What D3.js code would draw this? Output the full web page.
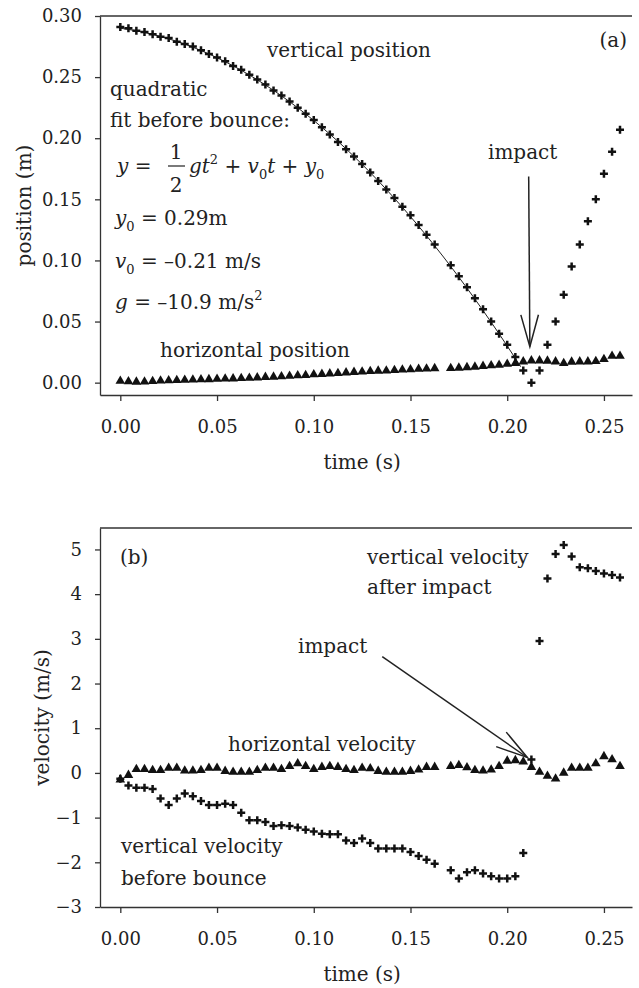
<!DOCTYPE html>
<html>
<head>
<meta charset="utf-8">
<script src="https://cdn.jsdelivr.net/npm/d3@7"></script>
<style>
  body { margin: 0; background: #fff; }
  svg { display: block; }
  svg text { font-family: "DejaVu Serif", "Liberation Serif", serif; }
  .axis path, .axis line { stroke: #333; stroke-width: 1.3; }
  .axis text { font-size: 18px; fill: #222; }
  .lbl { font-size: 20px; fill: #222; }
  .sm { font-size: 13px; }
</style>
</head>
<body>
<svg id="chart" width="639" height="988"></svg>
<script>
// frame times (s); frame at 0.1667 s is missing in the record
const time = [0.0000, 0.0042, 0.0083, 0.0125, 0.0167, 0.0208, 0.0250, 0.0292, 0.0333, 0.0375,
  0.0417, 0.0458, 0.0500, 0.0542, 0.0583, 0.0625, 0.0667, 0.0708, 0.0750, 0.0792,
  0.0833, 0.0875, 0.0917, 0.0958, 0.1000, 0.1042, 0.1083, 0.1125, 0.1167, 0.1208,
  0.1250, 0.1292, 0.1333, 0.1375, 0.1417, 0.1458, 0.1500, 0.1542, 0.1583, 0.1625,
  0.1708, 0.1750, 0.1792, 0.1833, 0.1875, 0.1917, 0.1958, 0.2000, 0.2042, 0.2083,
  0.2125, 0.2167, 0.2208, 0.2250, 0.2292, 0.2333, 0.2375, 0.2417, 0.2458, 0.2500,
  0.2542, 0.2583];

const vertPos = [0.291, 0.290, 0.288, 0.287, 0.285, 0.283, 0.282, 0.279, 0.277, 0.275,
  0.272, 0.269, 0.266, 0.263, 0.259, 0.256, 0.252, 0.248, 0.244, 0.239,
  0.235, 0.230, 0.225, 0.220, 0.215, 0.209, 0.203, 0.197, 0.191, 0.185,
  0.179, 0.172, 0.165, 0.158, 0.151, 0.144, 0.137, 0.129, 0.121, 0.113,
  0.096, 0.087, 0.078, 0.069, 0.060, 0.050, 0.040, 0.031, 0.021, 0.010,
  0.000, 0.010, 0.031, 0.050, 0.072, 0.095, 0.113, 0.132, 0.150, 0.171,
  0.189, 0.207];

const horizPos = [0.0014, 0.0010, 0.0006, 0.0008, 0.0012, 0.0015, 0.0018, 0.0020, 0.0021, 0.0024,
  0.0026, 0.0027, 0.0030, 0.0032, 0.0033, 0.0036, 0.0038, 0.0041, 0.0045, 0.0047,
  0.0050, 0.0054, 0.0058, 0.0061, 0.0066, 0.0070, 0.0074, 0.0077, 0.0082, 0.0086,
  0.0089, 0.0093, 0.0096, 0.0098, 0.0102, 0.0105, 0.0107, 0.0111, 0.0114, 0.0117,
  0.0118, 0.0121, 0.0125, 0.0129, 0.0135, 0.0140, 0.0145, 0.0152, 0.0159, 0.0172,
  0.0180, 0.0180, 0.0178, 0.0172, 0.0159, 0.0170, 0.0172, 0.0172, 0.0175, 0.0191,
  0.0218, 0.0218];

const horizVel = [-0.15, -0.05, 0.08, 0.08, 0.06, 0.06, 0.11, 0.11, 0.05, 0.05,
  0.06, 0.11, 0.11, 0.04, 0.02, 0.02, 0.02, 0.06, 0.11, 0.11,
  0.08, 0.15, 0.21, 0.15, 0.08, 0.13, 0.15, 0.13, 0.08, 0.06,
  0.11, 0.10, 0.04, 0.02, 0.02, 0.02, 0.04, 0.07, 0.13, 0.13,
  0.15, 0.17, 0.12, 0.06, 0.05, 0.07, 0.15, 0.27, 0.28, 0.25,
  0.13, 0.02, -0.07, -0.13, 0.00, 0.11, 0.11, 0.11, 0.21, 0.37,
  0.30, 0.15];

const vertVel = [-0.13, -0.28, -0.33, -0.33, -0.36, -0.57, -0.72, -0.57, -0.46, -0.52,
  -0.63, -0.72, -0.72, -0.69, -0.72, -0.89, -1.06, -1.06, -1.10, -1.19,
  -1.17, -1.19, -1.22, -1.27, -1.31, -1.36, -1.37, -1.37, -1.51, -1.57,
  -1.47, -1.57, -1.69, -1.69, -1.69, -1.69, -1.77, -1.86, -1.94, -2.03,
  -2.18, -2.36, -2.22, -2.18, -2.25, -2.31, -2.36, -2.36, -2.31, -1.79,
  0.30, 2.95, 4.35, 4.90, 5.10, 4.84, 4.60, 4.58, 4.52, 4.46,
  4.43, 4.37];

// quadratic fit before bounce
const fitY0 = 0.29, fitV0 = -0.21, fitG = -10.9;
const fitEnd = 0.207;

const timeTicks = [0, 0.05, 0.10, 0.15, 0.20, 0.25];
const posTicks = [0, 0.05, 0.10, 0.15, 0.20, 0.25, 0.30];
const velTicks = [-3, -2, -1, 0, 1, 2, 3, 4, 5];

const left = 100, right = 632;
const svg = d3.select("#chart");

const x = d3.scaleLinear().domain([-0.0105, 0.2645]).range([left, right]);
const yA = d3.scaleLinear().domain([-0.0101, 0.30]).range([395, 16]);
const yB = d3.scaleLinear().domain([-3, 5.48]).range([907, 528]);

const crossPath = "M-4,0H4M0,-4V4";
const tri = d3.symbol().type(d3.symbolTriangle).size(40)();

function drawAxes(y, ticks, fmt, titleText, titleX) {
  const [bot, top] = y.range();
  svg.append("g").attr("class", "axis")
    .attr("transform", `translate(0,${bot})`)
    .call(d3.axisBottom(x).tickValues(timeTicks).tickFormat(d3.format(".2f"))
      .tickSize(6).tickSizeOuter(0).tickPadding(19));
  svg.append("g").attr("class", "axis")
    .attr("transform", `translate(${left},0)`)
    .call(d3.axisLeft(y).tickValues(ticks).tickFormat(fmt)
      .tickSize(5).tickSizeOuter(0).tickPadding(13));
  // top frame line
  svg.append("line")
    .attr("x1", left).attr("x2", right).attr("y1", top).attr("y2", top)
    .attr("stroke", "#333").attr("stroke-width", 1.3);
  svg.append("text").attr("class", "lbl")
    .attr("x", (x(0) + x(0.25)) / 2).attr("y", bot + 74)
    .attr("text-anchor", "middle").text("time (s)");
  svg.append("text").attr("class", "lbl")
    .attr("transform", `translate(${titleX},${(bot + top) / 2}) rotate(-90)`)
    .attr("text-anchor", "middle").attr("dominant-baseline", "central")
    .text(titleText);
}

function drawCrosses(y, vals) {
  svg.append("g").selectAll("path")
    .data(time.map((t, i) => [t, vals[i]]))
    .join("path")
    .attr("d", crossPath)
    .attr("transform", d => `translate(${x(d[0])},${y(d[1])})`)
    .attr("stroke", "#111").attr("stroke-width", 2.5).attr("fill", "none");
}

function drawTriangles(y, vals) {
  svg.append("g").selectAll("path")
    .data(time.map((t, i) => [t, vals[i]]))
    .join("path")
    .attr("d", tri)
    .attr("transform", d => `translate(${x(d[0])},${y(d[1])})`)
    .attr("fill", "#111");
}

function arrow(x1, y1, x2, y2, len, spread) {
  const a = Math.atan2(y2 - y1, x2 - x1);
  const g = svg.append("g").attr("stroke", "#222").attr("stroke-width", 1.5).attr("fill", "none");
  g.append("line").attr("x1", x1).attr("y1", y1).attr("x2", x2).attr("y2", y2);
  g.append("path").attr("d",
    `M${x2 - len * Math.cos(a - spread)},${y2 - len * Math.sin(a - spread)}L${x2},${y2}` +
    `L${x2 - len * Math.cos(a + spread)},${y2 - len * Math.sin(a + spread)}`);
}

// text made of [string, style] runs: style "i" italic, "sub", "sup"
function richText(xp, yp, runs) {
  const t = svg.append("text").attr("class", "lbl").attr("x", xp).attr("y", yp);
  let shift = 0;
  runs.forEach(([s, st]) => {
    const target = st === "sub" ? 6 : st === "sup" ? -9 : 0;
    const span = t.append("tspan").attr("dy", target - shift).text(s);
    shift = target;
    if (st === "i") span.attr("font-style", "italic");
    if (st === "sub" || st === "sup") span.attr("class", "sm");
  });
  return t;
}

// ---------- panel (a) ----------
drawAxes(yA, posTicks, d3.format(".2f"), "position (m)", 24);

const fitTimes = time.filter(t => t <= fitEnd);
svg.append("path")
  .datum(fitTimes.concat([fitEnd]))
  .attr("fill", "none").attr("stroke", "#222").attr("stroke-width", 1)
  .attr("d", d3.line()
    .x(t => x(t))
    .y(t => yA(fitY0 + fitV0 * t + 0.5 * fitG * t * t))
    .curve(d3.curveMonotoneX));

drawTriangles(yA, horizPos);
drawCrosses(yA, vertPos);

svg.append("text").attr("class", "lbl").attr("x", 267).attr("y", 57).text("vertical position");
svg.append("text").attr("class", "lbl").attr("x", 627).attr("y", 47).attr("text-anchor", "end").text("(a)");
svg.append("text").attr("class", "lbl").attr("x", 110).attr("y", 96).text("quadratic");
svg.append("text").attr("class", "lbl").attr("x", 110).attr("y", 127).text("fit before bounce:");

// equation y = 1/2 g t^2 + v0 t + y0
richText(117, 173, [["y", "i"], [" ="]]);
svg.append("text").attr("class", "lbl").attr("x", 176).attr("y", 159).attr("text-anchor", "middle").text("1");
svg.append("line").attr("x1", 168).attr("x2", 185).attr("y1", 166).attr("y2", 166)
  .attr("stroke", "#222").attr("stroke-width", 1.2);
svg.append("text").attr("class", "lbl").attr("x", 176).attr("y", 192).attr("text-anchor", "middle").text("2");
richText(189, 173, [["gt", "i"], ["2", "sup"], [" + "], ["v", "i"], ["0", "sub"], ["t", "i"],
  [" + "], ["y", "i"], ["0", "sub"]]);

richText(115, 225, [["y", "i"], ["0", "sub"], [" = 0.29m"]]);
richText(115, 268, [["v", "i"], ["0", "sub"], [" = \u20130.21 m/s"]]);
richText(115, 309, [["g", "i"], [" = \u201310.9 m/s"], ["2", "sup"]]);

svg.append("text").attr("class", "lbl").attr("x", 160).attr("y", 357).text("horizontal position");
svg.append("text").attr("class", "lbl").attr("x", 488).attr("y", 159).text("impact");

// impact arrow (a)
arrow(x(0.2111), yA(0.1686), x(0.2117), yA(0.0295), 33, 0.27);

// ---------- panel (b) ----------
drawAxes(yB, velTicks, d3.format("d"), "velocity (m/s)", 42);

drawTriangles(yB, horizVel);
drawCrosses(yB, vertVel);

svg.append("text").attr("class", "lbl").attr("x", 120).attr("y", 564).text("(b)");
svg.append("text").attr("class", "lbl").attr("x", 367).attr("y", 564).text("vertical velocity");
svg.append("text").attr("class", "lbl").attr("x", 367).attr("y", 594).text("after impact");
svg.append("text").attr("class", "lbl").attr("x", 298).attr("y", 653).text("impact");
svg.append("text").attr("class", "lbl").attr("x", 228).attr("y", 751).text("horizontal velocity");
svg.append("text").attr("class", "lbl").attr("x", 121).attr("y", 853).text("vertical velocity");
svg.append("text").attr("class", "lbl").attr("x", 121).attr("y", 885).text("before bounce");

// impact arrow (b)
arrow(x(0.1354), yB(2.6), x(0.2104), yB(0.345), 33, 0.27);
</script>
</body>
</html>
